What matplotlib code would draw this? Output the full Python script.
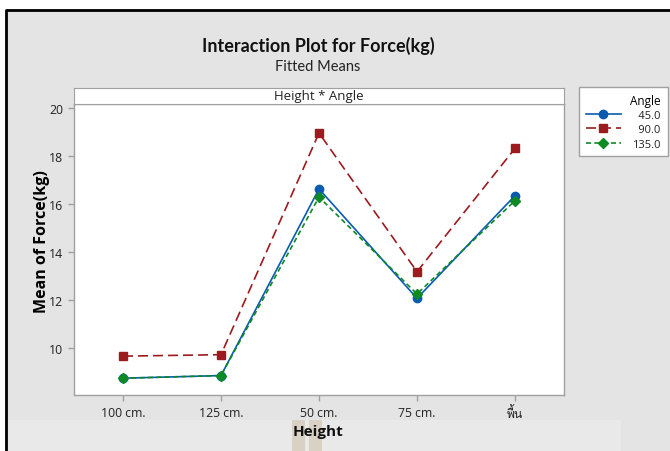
#!/usr/bin/env python3
"""Interaction plot of fitted mean force by height and angle."""

import matplotlib

matplotlib.use("Agg")

import matplotlib.pyplot as plt
from matplotlib import font_manager
from matplotlib.ft2font import FT2Font
from matplotlib.lines import Line2D
from matplotlib.patches import Rectangle

HEIGHTS = ["100 cm.", "125 cm.", "50 cm.", "75 cm.", "พื้น"]
ANGLES = ["45.0", "90.0", "135.0"]

MEAN_45 = [8.75, 8.86, 16.64, 12.08, 16.36]
MEAN_90 = [9.67, 9.73, 18.97, 13.19, 18.33]
MEAN_135 = [8.75, 8.86, 16.30, 12.26, 16.15]

Y_TICKS = [10, 12, 14, 16, 18, 20]

BG = "#e4e4e4"
SPINE = "#a0a0a0"
TEXT = "#222222"
BASE_FONT = "Open Sans"


def thai_family():
    # first installed font that carries Thai glyphs, if any
    for entry in font_manager.fontManager.ttflist:
        try:
            if ord("พ") in FT2Font(entry.fname).get_charmap():
                return entry.name
        except Exception:
            continue
    return None


def main() -> None:
    plt.rcParams["font.family"] = [BASE_FONT, "DejaVu Sans"]
    thai = thai_family()

    fig = plt.figure(figsize=(6.7, 4.52), dpi=100)
    fig.patch.set_facecolor(BG)

    # white margin and black frame line at the top and left
    fig.add_artist(Rectangle((0, 1 - 10 / 452), 1, 10 / 452, transform=fig.transFigure,
                             facecolor="white", edgecolor="none", zorder=0))
    fig.add_artist(Rectangle((0, 0), 5 / 670, 1, transform=fig.transFigure,
                             facecolor="white", edgecolor="none", zorder=0))
    fig.add_artist(Line2D([5.5 / 670, 5.5 / 670, 1], [0, 1 - 10.5 / 452, 1 - 10.5 / 452],
                          transform=fig.transFigure, color="black", lw=2, zorder=1))

    # lighter band under the axis title, with the two tan highlights
    fig.add_artist(Rectangle((7 / 670, 0), 614 / 670, 31 / 452, transform=fig.transFigure,
                             facecolor="#e9e9e9", edgecolor="none", zorder=0))
    for x0 in (292, 309):
        fig.add_artist(Rectangle((x0 / 670, 0), 13 / 670, 31 / 452, transform=fig.transFigure,
                                 facecolor="#d9d2c4", edgecolor="none", zorder=0))

    ax = fig.add_axes([74 / 670, 1 - 396 / 452, 490 / 670, 291 / 452])
    ax.set_facecolor("white")
    for side in ax.spines.values():
        side.set_color(SPINE)
        side.set_linewidth(1.0)

    x = list(range(len(HEIGHTS)))
    ax.plot(x, MEAN_45, color="#0a5bb0", lw=1.2, ls="-", marker="o", ms=6,
            label="\u2007" + ANGLES[0], zorder=4)
    ax.plot(x, MEAN_90, color="#9c1b1e", lw=1.2, ls=(0, (6, 3)), marker="s", ms=6,
            label="\u2007" + ANGLES[1], zorder=3)
    ax.plot(x, MEAN_135, color="#0d8a23", lw=1.2, ls=(0, (3, 2)), marker="D", ms=5.5,
            label=ANGLES[2], zorder=5)

    ax.set_xlim(-0.5, 4.5)
    ax.set_ylim(8.05, 20.18)
    ax.set_xticks(x)
    ax.set_xticklabels(HEIGHTS)
    ax.set_yticks(Y_TICKS)
    ax.tick_params(colors=SPINE, labelcolor=TEXT, labelsize=8.8, length=4, width=1, pad=4)
    if thai:
        ax.get_xticklabels()[-1].set_family([thai, BASE_FONT])

    ax.set_ylabel("Mean of Force(kg)", fontsize=11.5, fontweight="bold", color="black")
    ax.yaxis.set_label_coords(-0.05, 0.53)
    fig.text(318 / 670, 1 - 432 / 452, "Height", ha="center", va="center",
             fontsize=11, fontweight="bold", color="#111111")

    # panel strip
    strip = fig.add_axes([74 / 670, 1 - 105 / 452, 490 / 670, 16 / 452])
    strip.set_facecolor("white")
    strip.set_xticks([])
    strip.set_yticks([])
    for side in strip.spines.values():
        side.set_color(SPINE)
    strip.text(0.5, 0.5, "Height * Angle", ha="center", va="center",
               fontsize=9.5, color=TEXT, transform=strip.transAxes)

    fig.text(318 / 670, 1 - 46 / 452, "Interaction Plot for Force(kg)", ha="center", va="center",
             fontsize=13, fontweight="bold", color="#111111", family=["Lato", "DejaVu Sans"])
    fig.text(318 / 670, 1 - 67 / 452, "Fitted Means", ha="center", va="center",
             fontsize=10.5, color=TEXT, family=["Lato", "DejaVu Sans"])

    leg = ax.legend(title="Angle", loc="upper left", bbox_to_anchor=(579 / 670, 1 - 88 / 452),
                    bbox_transform=fig.transFigure, borderaxespad=0, frameon=True, fancybox=False,
                    framealpha=1, facecolor="white", edgecolor=SPINE,
                    fontsize=8, title_fontsize=8.5, handlelength=3.2, handletextpad=1.0,
                    borderpad=0.6, labelspacing=0.3, alignment="right")
    leg.get_frame().set_linewidth(1.0)
    for t in leg.get_texts():
        t.set_color(TEXT)

    fig.savefig("out.png", dpi=100, facecolor=fig.get_facecolor())
    plt.close(fig)


if __name__ == "__main__":
    main()
